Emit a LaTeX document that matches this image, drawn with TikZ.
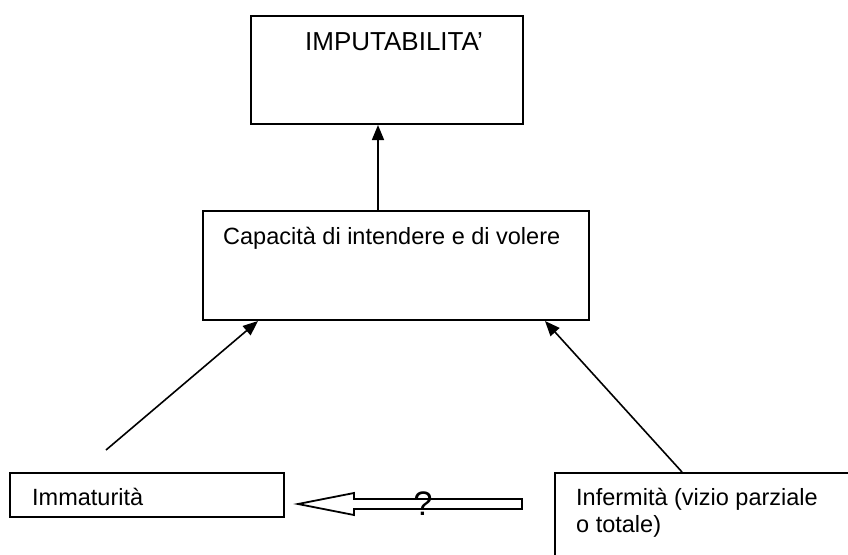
\documentclass[tikz,border=0pt]{standalone}
\usepackage{fontspec}
\setmainfont{Liberation Sans}
\usetikzlibrary{arrows.meta,positioning}

\begin{document}
\begin{tikzpicture}[x=1pt,y=-1pt,
    box/.style={draw,line width=2pt,rectangle,inner sep=0pt,anchor=north west},
    txt/.style={inner sep=0pt,anchor=base west,font=\fontsize{23.5}{27}\selectfont},
    arr/.style={line width=1.6pt,-{Triangle[length=15pt,width=12pt]}}]
    \useasboundingbox (0,0) rectangle (848,554);
    % boxes
    \node[box,minimum width=272pt,minimum height=108pt] (imp) at (250,15) {};
    \node[inner sep=0pt,anchor=base,font=\fontsize{26}{30}\selectfont] (imptxt) at (394,50) {IMPUTABILITA’};
    \node[box,minimum width=386pt,minimum height=109pt] (cap) at (202,210) {};
    \node[txt] (captxt) at (223,244) {Capacità di intendere e di volere};
    \node[box,minimum width=274pt,minimum height=44pt] (imm) at (9,472) {};
    \node[txt] (immtxt) at (32,505) {Immaturità};
    \node[box,minimum width=300pt,minimum height=90pt] (inf) at (554,472) {};
    \node[txt] (inftxt) at (576,505) {\vtop{\hbox{Infermità (vizio parziale}\hbox{o totale)}}};
    % arrows
    \coordinate (immtail) at (106,450);
    \draw[arr] ([xshift=176pt]cap.north west) -- ([xshift=128pt]imp.south west);
    \draw[arr] (immtail) -- ([xshift=56pt]cap.south west);
    \draw[arr] ([xshift=128pt]inf.north west) -- ([xshift=343pt]cap.south west);
    % block arrow
    \draw[line width=1.8pt] (298,504) -- (354,493) -- (354,499) -- (522,499) -- (522,509) -- (354,509) -- (354,515) -- cycle;
    \node[inner sep=0pt,anchor=base,font=\fontsize{34}{40}\selectfont] (q) at (423,515) {?};
\end{tikzpicture}
\end{document}
